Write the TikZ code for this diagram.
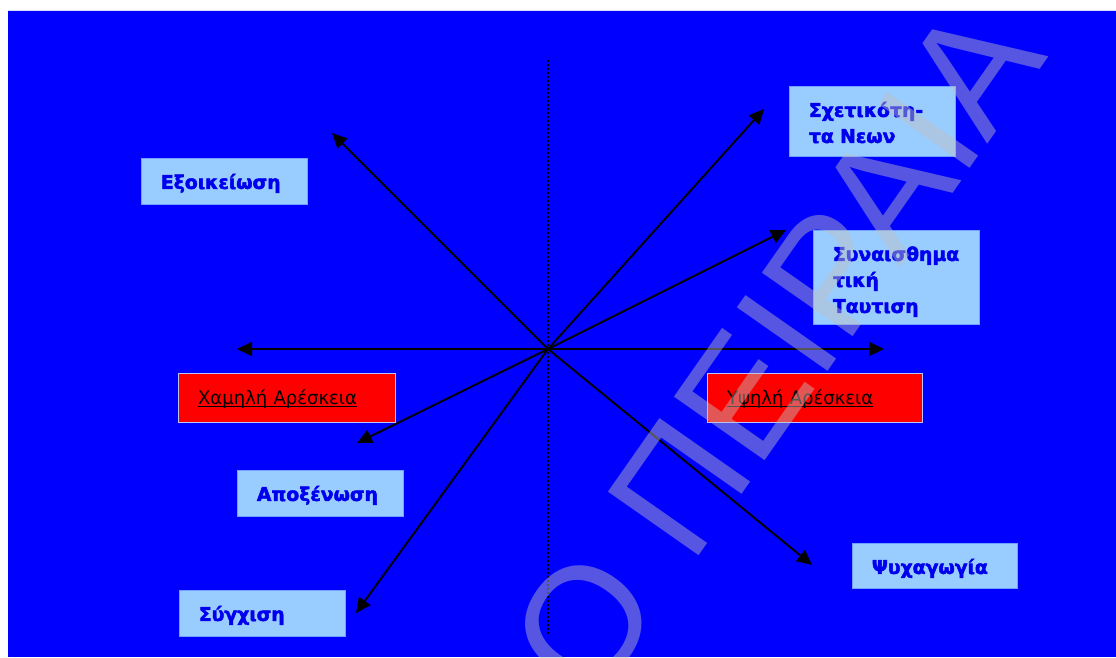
\documentclass[tikz,border=0pt]{standalone}
\usepackage{fontspec}
\usetikzlibrary{arrows.meta}
\newfontfamily\boxfont{DejaVu Sans}[BoldFeatures={FakeBold=2.5}]
\newfontfamily\plainfont[FakeStretch=0.97]{DejaVu Sans}
\newfontfamily\markfont{Liberation Sans}
\definecolor{slide}{RGB}{0,0,255}
\definecolor{boxfill}{RGB}{153,204,255}
\definecolor{boxrim}{RGB}{110,160,255}
\definecolor{boxtext}{RGB}{0,0,238}
\definecolor{redfill}{RGB}{255,0,0}
\definecolor{redrim}{RGB}{190,195,255}
\definecolor{markgray}{RGB}{192,192,192}
% underlined text with a rule of our own thickness
\newcommand\linedtext[1]{\setbox0\hbox{#1}\rlap{\rule[-2.8pt]{\wd0}{1.5pt}}\box0}
% first baseline sits 30.5pt below the box top; the last line gets the given depth
\newcommand\lead{\rule{0pt}{30.5pt}}
\newcommand\tail[1]{\rule[-#1]{0pt}{#1}}

\begin{document}
\begin{tikzpicture}[x=1pt,y=-1pt,
  labelbox/.style 2 args={anchor=north west, fill=boxfill, draw=boxrim, line width=0.8pt,
    minimum width=#1, minimum height=#2, text width=#1-39pt, inner xsep=19.5pt, inner ysep=0pt,
    align=left, text=boxtext, font=\boxfont\bfseries\fontsize{18.8}{26}\selectfont},
  redbox/.style 2 args={anchor=north west, fill=redfill, draw=redrim, line width=1.2pt,
    minimum width=#1, minimum height=#2, text width=#1-39pt, inner xsep=19.5pt, inner ysep=0pt,
    align=left, text=black, font=\plainfont\fontsize{18.6}{26}\selectfont},
  pointer/.style={-{Triangle[length=15pt,width=14pt]}, line width=1.9pt, black},
  twoway/.style={{Triangle[length=15pt,width=14pt]}-{Triangle[length=15pt,width=14pt]}, line width=1.9pt, black},
  axis/.style={black, line width=1.6pt, dash pattern=on 1.6pt off 2.4pt}
]
\useasboundingbox (0,0) rectangle (1116,657);
\fill[white] (0,0) rectangle (1116,657);
\fill[slide] (8,10) rectangle (1116,657);
\draw[white!85!slide, line width=1pt] (8,10.5) -- (1116,10.5);

% vertical dotted axis
\coordinate (axtop) at (548,60);
\coordinate (axbot) at (548,636);
\draw[axis] (axtop) -- (axbot);

% centre and arrow tips
\coordinate (c) at (548,349);
\coordinate (tfam) at (332,133);
\coordinate (trel) at (764,109);
\coordinate (temo) at (786,230);
\coordinate (thigh) at (884,349);
\coordinate (tlow) at (237,349);
\coordinate (tali) at (357,443);
\coordinate (tcon) at (356,613);
\coordinate (tent) at (812,565);

\draw[pointer] (c) -- (tfam);
\draw[pointer] (c) -- (trel);
\draw[pointer] (c) -- (temo);
\draw[twoway] (tlow) -- (thigh);
\draw[pointer] (c) -- (tali);
\draw[pointer] (c) -- (tcon);
\draw[pointer] (c) -- (tent);

% label boxes
\node[labelbox={166pt}{46pt}] (fam) at (141,158) {\lead Εξοικείωση\tail{15.5pt}};
\node[labelbox={166pt}{70pt}] (rel) at (789,86) {\lead Σχετικότη-\\τα Νεων\tail{13.5pt}};
\node[labelbox={166pt}{94pt}] (emo) at (813,230) {\lead Συναισθημα\\τική\\Ταυτιση\tail{11.5pt}};
\node[labelbox={166pt}{46pt}] (ali) at (237,470) {\lead Αποξένωση\tail{15.5pt}};
\node[labelbox={166pt}{46pt}] (con) at (179,590) {\lead Σύγχιση\tail{15.5pt}};
\node[labelbox={165pt}{45pt}] (ent) at (852,543) {\lead Ψυχαγωγία\tail{14.5pt}};
\node[redbox={217pt}{49pt}] (low) at (178,373) {\rule{0pt}{31pt}\linedtext{Χαμηλή Αρέσκεια}\tail{18pt}};
\node[redbox={215pt}{49pt}] (high) at (707,373) {\rule{0pt}{31pt}\linedtext{Υψηλή Αρέσκεια}\tail{18pt}};

% translucent watermark across the slide
\begin{scope}
\clip (8,10) rectangle (1116,657);
\node[rotate=55, anchor=base east, inner sep=0pt, text=markgray, opacity=0.45,
  font=\markfont\fontsize{161}{161}\selectfont] (mark) at (1049,56) {Ο ΠΕΙΡΑΙΑ};
\end{scope}
\end{tikzpicture}
\end{document}
